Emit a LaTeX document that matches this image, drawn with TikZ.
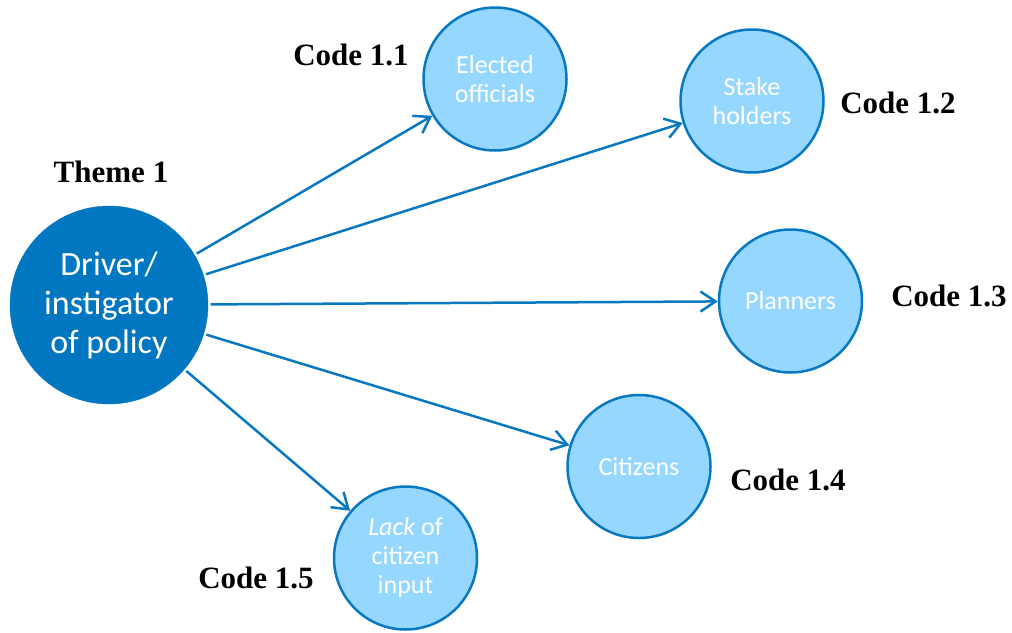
\documentclass[tikz,border=0pt]{standalone}
\usepackage{fontspec}
\setmainfont{Liberation Serif}
\newfontfamily\calib{Carlito}
\usetikzlibrary{arrows.meta}
\definecolor{hubblue}{RGB}{0,119,192}
\definecolor{leafblue}{RGB}{150,215,255}
\definecolor{edgeblue}{RGB}{8,120,192}
\tikzset{
  hub/.style={circle, fill=hubblue, draw=hubblue, minimum size=198pt, inner sep=0pt,
    text=white, align=center, font=\calib\fontsize{34}{39}\selectfont},
  leaf/.style={circle, fill=leafblue, draw=edgeblue, line width=2.5pt, minimum size=143pt,
    inner sep=0pt, text=white, align=center, font=\calib\fontsize{26}{29}\selectfont},
  codelabel/.style={font=\bfseries\fontsize{31}{36}\selectfont, inner sep=0pt},
  link/.style={draw=edgeblue, line width=2.5pt, shorten <=2.5pt,
    -{Straight Barb[length=15pt,width=20pt]}}
}
\begin{document}
\begin{tikzpicture}[x=1pt,y=-1pt]
  \useasboundingbox (0,0) rectangle (1012,632);
  % central theme
  \node[hub] (drv) at (109,305) {Driver/\\instigator\\of policy};
  % codes
  \node[leaf] (eo) at (495,79) {Elected\\officials};
  \node[leaf] (sh) at (752,101) {Stake\\holders};
  \node[leaf] (pl) at (790.5,301) {Planners};
  \node[leaf] (ci) at (639,466.5) {Citizens};
  \node[leaf] (lk) at (405.5,558) {\itshape Lack\upshape{} of\\citizen\\input};
  % labels
  \node[codelabel] (t1) at (111,172) {Theme 1};
  \node[codelabel] (c11) at (351,55) {Code 1.1};
  \node[codelabel] (c12) at (898,103) {Code 1.2};
  \node[codelabel] (c13) at (949,296) {Code 1.3};
  \node[codelabel] (c14) at (788,480) {Code 1.4};
  \node[codelabel] (c15) at (256,578) {Code 1.5};
  % connectors
  \draw[link] (drv) -- (eo);
  \draw[link] (drv) -- (sh);
  \draw[link] (drv) -- (pl);
  \draw[link] (drv) -- (ci);
  \draw[link] (drv) -- (lk);
\end{tikzpicture}
\end{document}
